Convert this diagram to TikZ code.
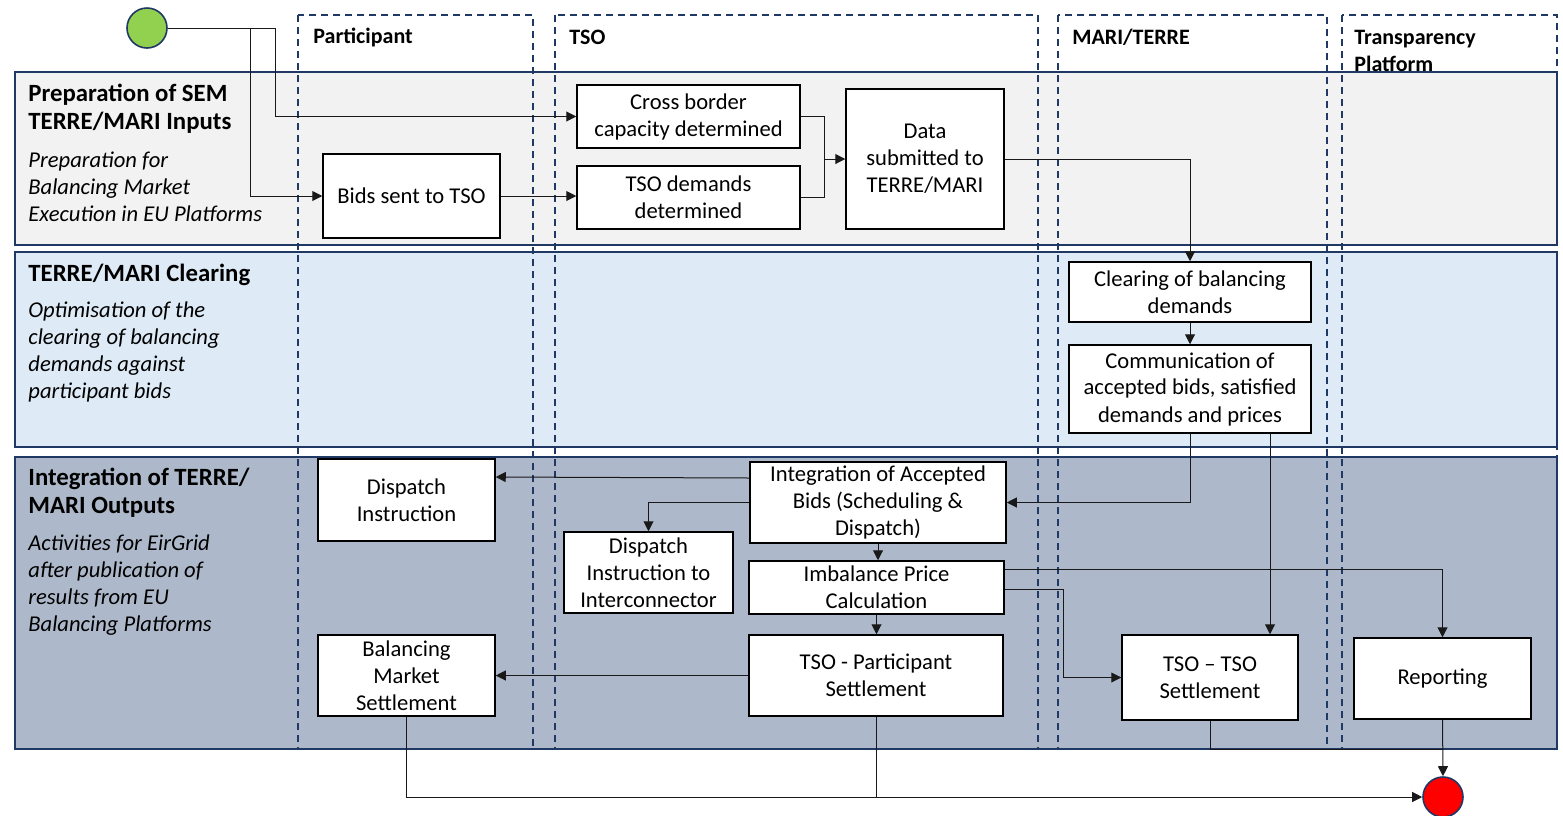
\documentclass[tikz,border=0pt]{standalone}
\usepackage{fontspec}
\setmainfont{Carlito}
\usetikzlibrary{positioning,arrows.meta,calc}
\definecolor{navy}{HTML}{203864}
\definecolor{bandA}{HTML}{F2F2F2}
\definecolor{bandB}{HTML}{DEEBF7}
\definecolor{bandC}{HTML}{ADB9CA}
\definecolor{startgreen}{HTML}{92D050}

\begin{document}
\begin{tikzpicture}[x=0.5pt, y=-0.5pt,
  band/.style={draw=navy, line width=0.8pt},
  lane/.style={draw=navy, line width=0.7pt, dash pattern=on 3.5pt off 2.5pt},
  proc/.style={draw=black, line width=0.75pt, fill=white, align=center, inner sep=0pt, font=\fontsize{11.3}{13.5}\selectfont},
  flow/.style={draw=black!90, line width=0.5pt, -{Triangle[length=5pt,width=5pt]}},
  link/.style={draw=black!90, line width=0.5pt},
  bandtitle/.style={anchor=west, align=left, inner sep=0pt, font=\fontsize{12.4}{14}\selectfont\bfseries},
  banddesc/.style={anchor=west, align=left, inner sep=0pt, font=\fontsize{11.3}{13.5}\selectfont\itshape},
  lanetitle/.style={anchor=west, align=left, inner sep=0pt, font=\fontsize{11}{13.5}\selectfont\bfseries},
  event/.style={circle, draw=navy, line width=0.8pt, minimum size=20pt, inner sep=0pt}]

\useasboundingbox (0,0) rectangle (1563,815);

\draw[band, fill=bandA] (15,72) rectangle (1557,245);
\draw[band, fill=bandB] (15,252) rectangle (1557,447);
\draw[band, fill=bandC] (15,457) rectangle (1557,749);

\foreach \xl/\xr in {298/533, 555/1038, 1058/1327, 1342/1557}
  \draw[lane] (\xl,15) rectangle (\xr,749);

\node[lanetitle] (hpart) at (313,37) {Participant};
\node[lanetitle] (htso) at (569,37) {TSO};
\node[lanetitle] (hmari) at (1072,37) {MARI/TERRE};
\node[lanetitle] (htrans) at (1354,50.5) {Transparency\\Platform};

\node[bandtitle] (tprep) at (28,109) {Preparation of SEM\\TERRE/MARI Inputs};
\node[banddesc] (dprep) at (28,187) {Preparation for\\Balancing Market\\Execution in EU Platforms};
\node[bandtitle] (tclear) at (28,275) {TERRE/MARI Clearing};
\node[banddesc] (dclear) at (28,351.5) {Optimisation of the\\clearing of balancing\\demands against\\participant bids};
\node[bandtitle] (tinteg) at (28,493) {Integration of TERRE/\\MARI Outputs};
\node[banddesc] (dinteg) at (28,585.5) {Activities for EirGrid\\after publication of\\results from EU\\Balancing Platforms};

\node[event, fill=startgreen] (start) at (147,28) {};
\node[event, fill=red] (endc) at (1443,797) {};

\node[proc, minimum width=88.5pt, minimum height=42pt] (bids) at (411.5,196) {Bids sent to TSO};
\node[proc, minimum width=111.5pt, minimum height=31.5pt] (cross) at (688.5,116.5) {Cross border\\capacity determined};
\node[proc, minimum width=111.5pt, minimum height=31.5pt] (demands) at (688.5,197.5) {TSO demands\\determined};
\node[proc, minimum width=79pt, minimum height=70pt] (data) at (925,159) {Data\\submitted to\\TERRE/MARI};
\node[proc, minimum width=121pt, minimum height=30pt] (clear) at (1190,292) {Clearing of balancing\\demands};
\node[proc, minimum width=121pt, minimum height=44pt] (comm) at (1190,389) {Communication of\\accepted bids, satisfied\\demands and prices};
\node[proc, minimum width=88.5pt, minimum height=41pt] (dispatch) at (406.5,500) {Dispatch\\Instruction};
\node[proc, minimum width=128pt, minimum height=40.5pt] (integ) at (878,502.5) {Integration of Accepted\\Bids (Scheduling \&\\Dispatch)};
\node[proc, minimum width=84.5pt, minimum height=40.5pt] (dii) at (648.5,572.5) {Dispatch\\Instruction to\\Interconnector};
\node[proc, minimum width=127.5pt, minimum height=26.5pt] (imb) at (876.5,587.5) {Imbalance Price\\Calculation};
\node[proc, minimum width=127pt, minimum height=40.5pt] (tsop) at (876,675.5) {TSO - Participant\\Settlement};
\node[proc, minimum width=88.5pt, minimum height=40.5pt] (bms) at (406.5,675.5) {Balancing\\Market\\Settlement};
\node[proc, minimum width=88pt, minimum height=42.5pt] (tsotso) at (1210,677.5) {TSO – TSO\\Settlement};
\node[proc, minimum width=88.5pt, minimum height=40.5pt] (report) at (1442.5,678.5) {Reporting};

\draw[flow] (start.east) -- (250,28) |- (bids.west);
\draw[flow] (start.east) -- (275,28) |- (cross.west);
\draw[flow] (bids.east) -- (bids.east -| demands.west);
\draw[flow] (cross.east) -| (824,159) -- (data.west);
\draw[link] (demands.east) -| (824,159);
\draw[flow] (data.east) -| (clear.north);
\draw[flow] (clear.south) -- (comm.north);
\draw[flow] (comm.south) |- (integ.east);
\draw[flow] ($(comm.south)+(80,0)$) -- ($(tsotso.north)+(60,0)$);
\draw[flow] ($(integ.west)+(0,-24.5)$) -- ($(dispatch.east)+(0,-23)$);
\draw[flow] (integ.west) -| (dii.north);
\draw[flow] (integ.south) -- (integ.south |- imb.north);
\draw[flow] (imb.south) -- (imb.south |- tsop.north);
\draw[flow] ($(imb.east)+(0,-18.5)$) -| (report.north);
\draw[flow] ($(imb.east)+(0,1.5)$) -- (1063,589) |- (tsotso.west);
\draw[flow] (tsop.west) -- (tsop.west -| bms.east);
\draw[flow] (bms.south) |- (endc.west);
\draw[link] (tsop.south) -- (tsop.south |- endc.west);
\draw[link] (tsotso.south) |- ($(report.south)+(0,30)$);
\draw[flow] (report.south) -- (endc.north);
\end{tikzpicture}
\end{document}
